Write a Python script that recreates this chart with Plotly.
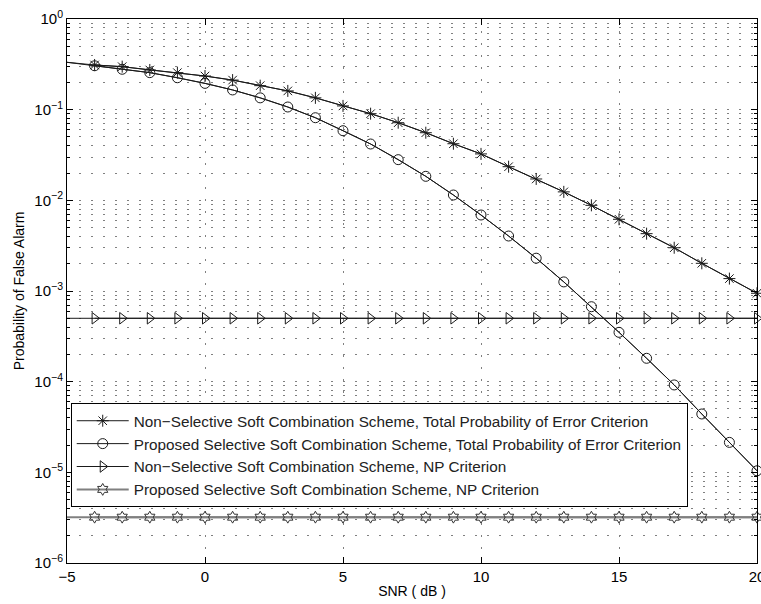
import plotly.graph_objects as go

# ---- data ----
snr_line = list(range(-5, 21))          # line drawn from -5 dB
snr_mark = list(range(-4, 21))          # markers from -4 dB

pfa_nonsel_tpe = [0.333, 0.311, 0.298, 0.274, 0.256, 0.235, 0.212, 0.184, 0.161, 0.135,
                  0.110, 0.0903, 0.0718, 0.0557, 0.0421, 0.0325, 0.0235, 0.0172, 0.0124,
                  0.00881, 0.00618, 0.00429, 0.00300, 0.00202, 0.00137, 0.000944]
pfa_sel_tpe = [0.333, 0.305, 0.279, 0.256, 0.225, 0.195, 0.165, 0.135, 0.107, 0.0815,
               0.0586, 0.0418, 0.0281, 0.0184, 0.01145, 0.00689, 0.00404, 0.00230, 0.00126,
               0.000671, 0.000350, 0.000181, 9.2e-5, 4.4e-5, 2.14e-5, 1.04e-5]
pfa_nonsel_np = [5.0e-4] * 26
pfa_sel_np = [3.2e-6] * 26

series_names = [
    "Non\u2212Selective Soft Combination Scheme, Total Probability of Error Criterion",
    "Proposed Selective Soft Combination Scheme, Total Probability of Error Criterion",
    "Non\u2212Selective Soft Combination Scheme, NP Criterion",
    "Proposed Selective Soft Combination Scheme, NP Criterion",
]

x_ticks = [-5, 0, 5, 10, 15, 20]
y_exps = [0, -1, -2, -3, -4, -5, -6]
y_ticktext = ["10<sup>%s</sup>" % (str(e).replace("-", "\u2212")) for e in y_exps]

FONT = "Liberation Sans, Arial, Helvetica, sans-serif"
INK = "#1a1a1a"

styles = [
    dict(symbol="asterisk-open", size=10, lc=INK, lw=1, mc=INK),
    dict(symbol="circle-open", size=10, lc=INK, lw=1, mc=INK),
    dict(symbol="triangle-right-open", size=10, lc=INK, lw=1, mc=INK),
    dict(symbol="hexagram-open", size=9, lc="#808080", lw=2, mc="#333333"),
]
all_series = [pfa_nonsel_tpe, pfa_sel_tpe, pfa_nonsel_np, pfa_sel_np]

fig = go.Figure()
for name, ys, st in zip(series_names, all_series, styles):
    # continuous curve from -5 dB
    fig.add_trace(go.Scatter(x=snr_line, y=ys, mode="lines", showlegend=False,
                             hoverinfo="skip",
                             line=dict(color=st["lc"], width=st["lw"])))
    # markers from -4 dB
    fig.add_trace(go.Scatter(x=snr_mark, y=ys[1:], mode="lines+markers", name=name,
                             cliponaxis=False,
                             line=dict(color=st["lc"], width=st["lw"]),
                             marker=dict(symbol=st["symbol"], size=st["size"],
                                         color=st["mc"], line=dict(color=st["mc"], width=1))))

grid_color = "#808080"
grid_dash = "2px,10px"

minor_vals = [k * 10.0 ** e for e in range(-6, 0) for k in range(2, 10)]

fig.update_layout(
    width=761, height=604,
    margin=dict(l=67, r=4, t=19, b=41, autoexpand=False),
    paper_bgcolor="white", plot_bgcolor="white",
    font=dict(family=FONT, size=15, color="black"),
    legend=dict(x=0.0054, y=0.2936, xanchor="left", yanchor="top",
                bgcolor="white", bordercolor="black", borderwidth=1,
                font=dict(family=FONT, size=15.3, color="#222"),
                itemwidth=52, tracegroupgap=0),
    xaxis=dict(range=[-5, 20], tickmode="array", tickvals=x_ticks,
               ticks="inside", ticklen=6, tickcolor="black",
               showline=True, linecolor="black", linewidth=1, mirror="ticks",
               showgrid=True, gridcolor=grid_color, griddash=grid_dash, gridwidth=1,
               zeroline=False, automargin=False, ticklabeloverflow="allow",
               tickfont=dict(family=FONT, size=15, color="black"),
               title=dict(text="SNR ( dB )", font=dict(family=FONT, size=14, color="black"),
                          standoff=2)),
    yaxis=dict(type="log", range=[-6, 0], tickmode="array",
               tickvals=[10.0 ** e for e in y_exps], ticktext=y_ticktext,
               ticks="inside", ticklen=6, tickcolor="black",
               showline=True, linecolor="black", linewidth=1, mirror="ticks",
               showgrid=True, gridcolor=grid_color, griddash=grid_dash, gridwidth=1,
               zeroline=False, automargin=False, ticklabeloverflow="allow",
               tickfont=dict(family=FONT, size=15, color="black"),
               minor=dict(tickmode="array", tickvals=minor_vals, ticks="inside",
                          ticklen=3, tickcolor="black", showgrid=True,
                          gridcolor=grid_color, griddash=grid_dash, gridwidth=1),
               title=dict(text="Probability of False Alarm",
                          font=dict(family=FONT, size=14, color="black"), standoff=6)),
)

# remove the default page margin so the figure sits at the window's corner
fig.write_html("out.html", config={"displayModeBar": False},
               post_script="document.body.style.margin='0';")
